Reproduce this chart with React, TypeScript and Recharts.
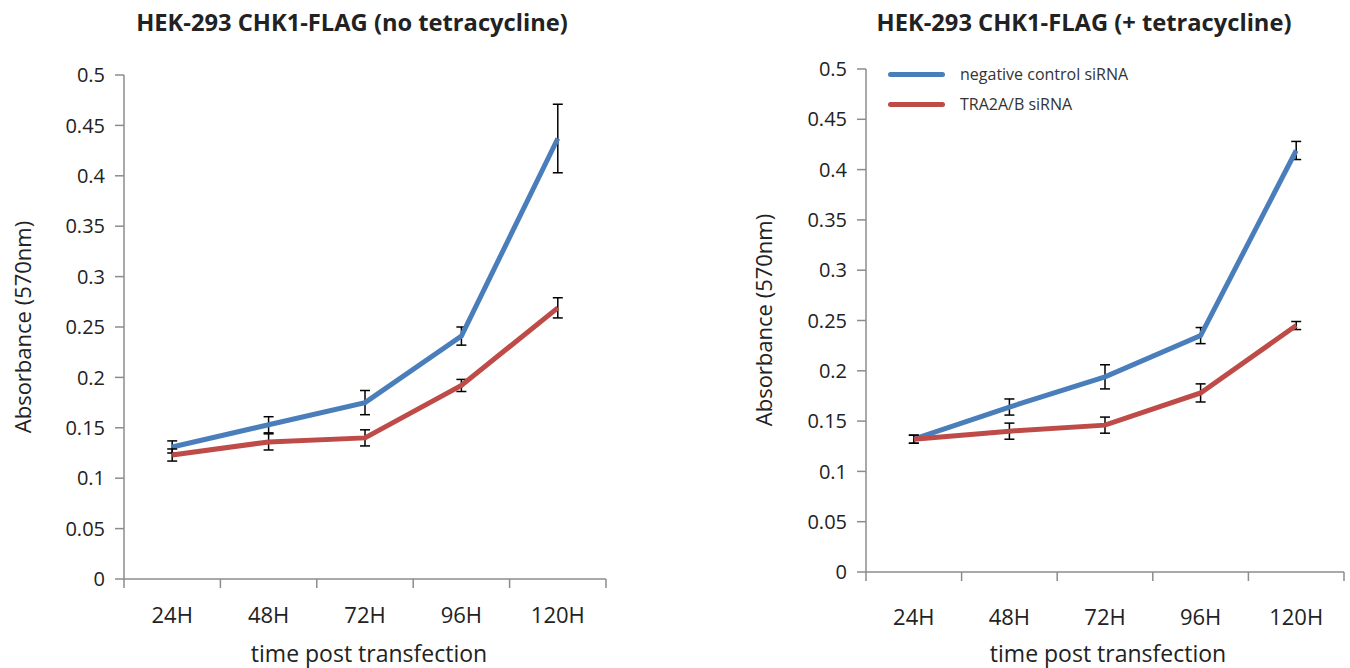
import React from "react"
import { ErrorBar, Legend, Line, LineChart, XAxis, YAxis } from "recharts"

// time points
const timePoints = ["24H", "48H", "72H", "96H", "120H"]

// HEK-293 CHK1-FLAG, no tetracycline
const noTetControl = [0.131, 0.153, 0.175, 0.241, 0.437]
const noTetControlErr = [0.006, 0.008, 0.012, 0.009, 0.034]
const noTetTra2 = [0.123, 0.136, 0.14, 0.192, 0.269]
const noTetTra2Err = [0.006, 0.008, 0.008, 0.006, 0.01]

// HEK-293 CHK1-FLAG, + tetracycline
const tetControl = [0.132, 0.164, 0.194, 0.235, 0.419]
const tetControlErr = [0.004, 0.008, 0.012, 0.008, 0.009]
const tetTra2 = [0.132, 0.14, 0.146, 0.178, 0.245]
const tetTra2Err = [0.004, 0.008, 0.008, 0.009, 0.004]

const seriesNames = ["negative control siRNA", "TRA2A/B siRNA"]
const yTicks = [0, 0.05, 0.1, 0.15, 0.2, 0.25, 0.3, 0.35, 0.4, 0.45, 0.5]

const FONT = '"Open Sans", sans-serif'
const BLUE = "#4a7ebb"
const RED = "#be4b48"
const AXIS = "#8c8c8c"

const buildRows = (ctrl: number[], ctrlErr: number[], tra: number[], traErr: number[]) =>
    timePoints.map((t, i) => ({ time: t, ctrl: ctrl[i], ctrlErr: ctrlErr[i], tra: tra[i], traErr: traErr[i] }))

const noTetData = buildRows(noTetControl, noTetControlErr, noTetTra2, noTetTra2Err)
const tetData = buildRows(tetControl, tetControlErr, tetTra2, tetTra2Err)

// category label in the middle, tick marks on the band edges (Excel style)
const BandTick = (props: any) => {
    const { x, y, payload, index, visibleTicksCount, labelDy } = props
    const half = payload.offset || 48
    const axisY = y - 27
    return (
        <g>
            <line x1={x - half} x2={x - half} y1={axisY} y2={axisY + 9} stroke={AXIS} strokeWidth={1.5} />
            {index === visibleTicksCount - 1 && (
                <line x1={x + half} x2={x + half} y1={axisY} y2={axisY + 9} stroke={AXIS} strokeWidth={1.5} />
            )}
            <text x={x} y={y} dy={labelDy} textAnchor="middle" fill="#222" fontSize={22} fontFamily={FONT}>
                {payload.value}
            </text>
        </g>
    )
}

const LegendBox = (props: any) => {
    const items = [...(props.payload || [])].sort((a: any, b: any) => seriesNames.indexOf(a.value) - seriesNames.indexOf(b.value))
    return (
        <div style={{ width: "max-content", fontFamily: FONT, fontSize: 16, color: "#333", whiteSpace: "nowrap" }}>
            {items.map((p: any) => (
                <div key={p.value} style={{ display: "flex", alignItems: "center", height: 30 }}>
                    <span style={{ display: "inline-block", flexShrink: 0, width: 57, height: 5, borderRadius: 3, background: p.color, marginRight: 15 }} />
                    {p.value}
                </div>
            ))}
        </div>
    )
}

interface PanelProps {
    data: any[]
    left: number
    width: number
    top: number
    right: number
    bottom: number
    labelDy: number
    showLegend?: boolean
}

const Panel = ({ data, left, width, top, right, bottom, labelDy, showLegend }: PanelProps) => (
    <div style={{ position: "absolute", left, top: 0 }}>
        <LineChart data={data} width={width} height={668} margin={{ top, right, bottom, left: 0 }}>
            <XAxis
                dataKey="time"
                scale="band"
                height={50}
                tickLine={false}
                tickSize={9}
                tickMargin={18}
                axisLine={{ stroke: AXIS, strokeWidth: 1.5 }}
                tick={<BandTick labelDy={labelDy} />}
                interval={0}
            />
            <YAxis
                width={124}
                domain={[0, 0.5]}
                ticks={yTicks}
                tickSize={9}
                tickMargin={10}
                axisLine={{ stroke: AXIS, strokeWidth: 1.5 }}
                tickLine={{ stroke: AXIS, strokeWidth: 1.5 }}
                tick={{ fill: "#222", fontSize: 20, fontFamily: FONT }}
            />
            {showLegend && (
                <Legend
                    layout="vertical"
                    verticalAlign="top"
                    align="left"
                    content={<LegendBox />}
                    wrapperStyle={{ position: "absolute", left: 146, top: 59, width: 0, height: 0, overflow: "visible" }}
                />
            )}
            <Line type="linear" dataKey="ctrl" name={seriesNames[0]} stroke={BLUE} strokeWidth={5} dot={false} activeDot={false} isAnimationActive={false}>
                <ErrorBar dataKey="ctrlErr" width={5} stroke="#000" strokeWidth={1.5} direction="y" />
            </Line>
            <Line type="linear" dataKey="tra" name={seriesNames[1]} stroke={RED} strokeWidth={5} dot={false} activeDot={false} isAnimationActive={false}>
                <ErrorBar dataKey="traErr" width={5} stroke="#000" strokeWidth={1.5} direction="y" />
            </Line>
        </LineChart>
    </div>
)

const textStyle: React.CSSProperties = { position: "absolute", fontFamily: FONT, color: "#222", whiteSpace: "nowrap", lineHeight: 1 }

const App = () => (
    <div style={{ position: "relative", width: 1350, height: 668, overflow: "hidden", background: "#fff" }}>
        <style>{"html, body { margin: 0; padding: 0; overflow: hidden; }"}</style>
        <Panel data={noTetData} left={0} width={620} top={75} right={14} bottom={39} labelDy={17} />
        <Panel data={tetData} left={742} width={608} top={69} right={6} bottom={46} labelDy={26} showLegend />

        <div style={{ ...textStyle, left: 352, top: 23, transform: "translate(-50%,-50%)", fontSize: 23.7, fontWeight: 700 }}>
            HEK-293 CHK1-FLAG (no tetracycline)
        </div>
        <div style={{ ...textStyle, left: 1084, top: 23, transform: "translate(-50%,-50%)", fontSize: 23.7, fontWeight: 700 }}>
            HEK-293 CHK1-FLAG (+ tetracycline)
        </div>

        <div style={{ ...textStyle, left: 22, top: 327, transform: "translate(-50%,-50%) rotate(-90deg)", fontSize: 22 }}>
            Absorbance (570nm)
        </div>
        <div style={{ ...textStyle, left: 763, top: 320, transform: "translate(-50%,-50%) rotate(-90deg)", fontSize: 22 }}>
            Absorbance (570nm)
        </div>

        <div style={{ ...textStyle, left: 369, top: 653, transform: "translate(-50%,-50%)", fontSize: 23 }}>
            time post transfection
        </div>
        <div style={{ ...textStyle, left: 1108, top: 653, transform: "translate(-50%,-50%)", fontSize: 23 }}>
            time post transfection
        </div>
    </div>
)

export default App
